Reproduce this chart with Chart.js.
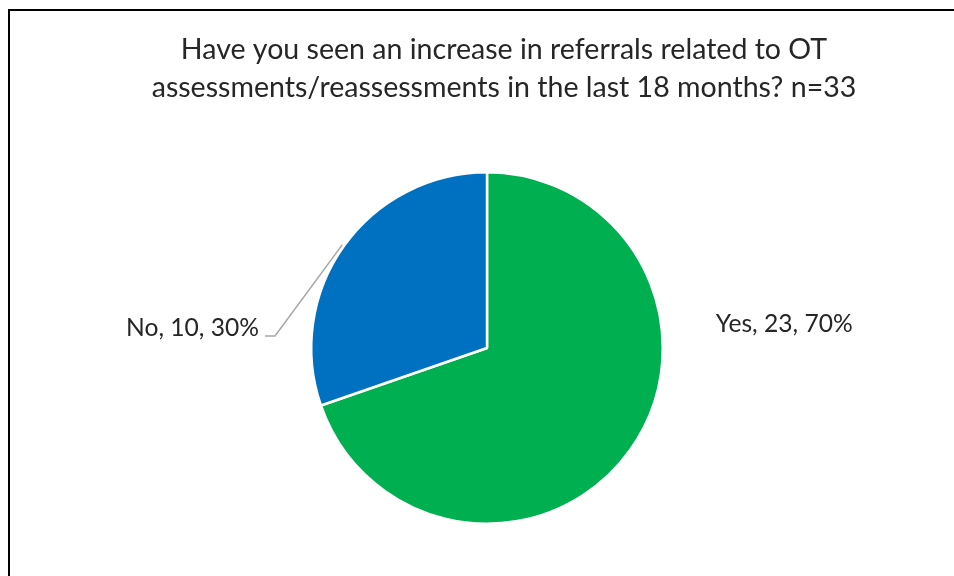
<!DOCTYPE html>
<html>
<head>
<meta charset="utf-8">
<script src="https://cdn.jsdelivr.net/npm/chart.js@4.4.1/dist/chart.umd.min.js"></script>
<style>
  html, body { margin: 0; padding: 0; background: #fff; overflow: hidden; }
  #wrap { position: relative; width: 954px; height: 576px; }
  #frame { position: absolute; left: 8px; top: 9px; width: 1000px; height: 700px;
           border-left: 2px solid #000; border-top: 2px solid #000; }
  #chart { position: absolute; left: 0; top: 0; }
</style>
</head>
<body>
<div id="wrap">
  <div id="frame"></div>
  <canvas id="chart" width="954" height="576"></canvas>
</div>
<script>
  const categories = ["Yes", "No"];
  const counts = [23, 10];
  const percents = [70, 30];
  const sliceColors = ["#00B050", "#0070C0"];
  const titleLines = [
    "Have you seen an increase in referrals related to OT",
    "assessments/reassessments in the last 18 months? n=33",
  ];

  const FONT = "Lato, 'Liberation Sans', sans-serif";
  const TEXT_COLOR = "#262626";

  // pick a font size so the text spans roughly the width seen in the picture
  function fitSize(ctx, text, targetWidth, maxSize) {
    ctx.font = `100px ${FONT}`;
    const w = ctx.measureText(text).width;
    return Math.min(maxSize, (100 * targetWidth) / w);
  }

  function labelText(i) {
    return `${categories[i]}, ${counts[i]}, ${percents[i]}%`;
  }

  const overlayPlugin = {
    id: "overlay",
    afterDraw(chart) {
      const ctx = chart.ctx;
      const arcs = chart.getDatasetMeta(0).data;
      const { x: cx, y: cy, outerRadius: r } = arcs[0].getProps(["x", "y", "outerRadius"], true);

      ctx.save();
      ctx.fillStyle = TEXT_COLOR;
      ctx.textBaseline = "middle";

      // title
      const titleSize = fitSize(ctx, titleLines[1], 705, 32);
      ctx.font = `${titleSize}px ${FONT}`;
      ctx.textAlign = "center";
      ctx.fillText(titleLines[0], 504, 50);
      ctx.fillText(titleLines[1], 504, 88);

      // data labels
      const labelSize = fitSize(ctx, labelText(0), 137, 28);
      ctx.font = `${labelSize}px ${FONT}`;

      ctx.textAlign = "left";
      ctx.fillText(labelText(0), cx + r + 53, cy - 24);

      ctx.textAlign = "right";
      ctx.fillText(labelText(1), cx - 228, cy - 20);

      // leader line for the "No" label, to the middle of its arc
      const no = arcs[1].getProps(["startAngle", "endAngle"], true);
      const mid = (no.startAngle + no.endAngle) / 2;
      ctx.strokeStyle = "#a6a6a6";
      ctx.lineWidth = 1.5;
      ctx.beginPath();
      ctx.moveTo(cx - 222, cy - 12);
      ctx.lineTo(cx - 212, cy - 12);
      ctx.lineTo(cx + Math.cos(mid) * (r + 2), cy + Math.sin(mid) * (r + 2));
      ctx.stroke();
      ctx.restore();
    },
  };

  new Chart(document.getElementById("chart"), {
    type: "pie",
    data: {
      labels: categories,
      datasets: [
        {
          data: counts,
          backgroundColor: sliceColors,
          borderColor: "#ffffff",
          borderWidth: 2.5,
        },
      ],
    },
    options: {
      responsive: false,
      animation: false,
      layout: { padding: { top: 171, bottom: 51, left: 310, right: 290 } },
      plugins: {
        legend: { display: false },
        title: { display: false },
        tooltip: { enabled: false },
      },
    },
    plugins: [overlayPlugin],
  });
</script>
</body>
</html>
